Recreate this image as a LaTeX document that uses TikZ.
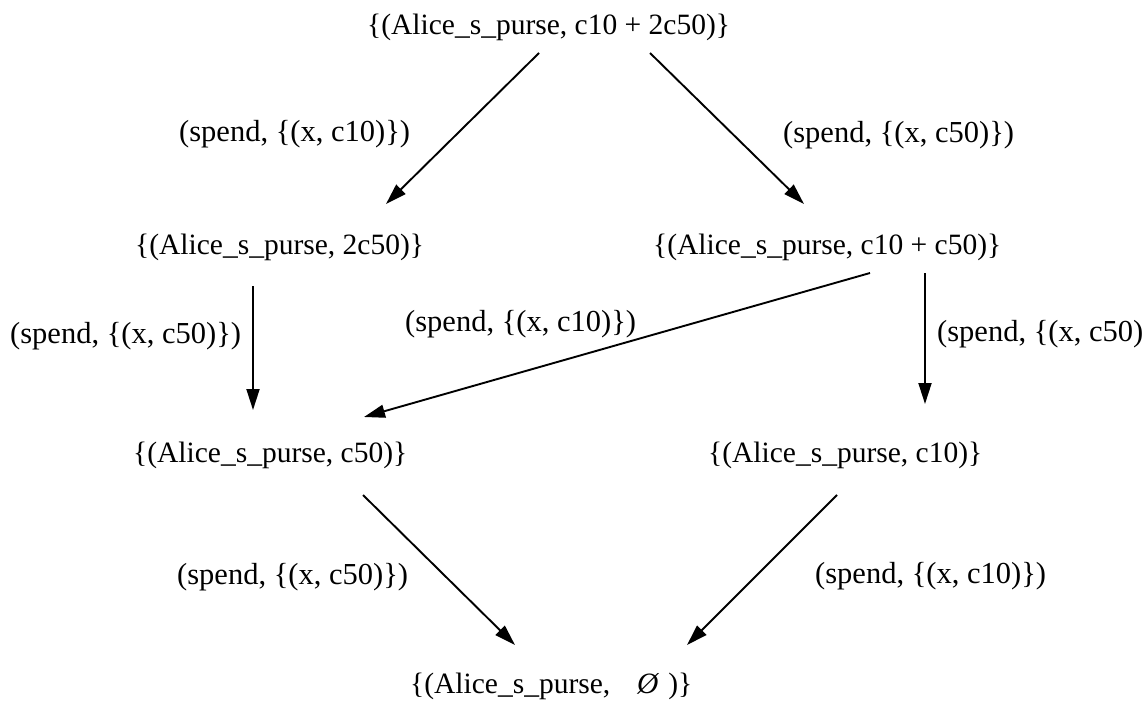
\documentclass[tikz,border=0pt]{standalone}
\usepackage{fontspec}
\setmainfont{Liberation Serif}
\usetikzlibrary{arrows.meta,calc}
\begin{document}
\begin{tikzpicture}[x=1pt,y=-1pt,
  txt/.style={inner sep=0pt, anchor=base west, font=\fontsize{29.5pt}{35pt}\selectfont},
  lbl/.style={inner sep=0pt, anchor=base west, font=\fontsize{30.5pt}{36pt}\selectfont},
  arr/.style={-{Triangle[length=21pt,width=13pt]}, line width=1.9pt}]
\useasboundingbox (0,0) rectangle (1143,701);
% states
\node[txt] (top) at (367,35) {\{(Alice\_s\_purse, c10 + 2c50)\}};
\node[txt] (L1) at (135,254) {\{(Alice\_s\_purse, 2c50)\}};
\node[txt] (R1) at (653,254) {\{(Alice\_s\_purse, c10 + c50)\}};
\node[txt] (L2) at (133,462) {\{(Alice\_s\_purse, c50)\}};
\node[txt] (R2) at (708,462) {\{(Alice\_s\_purse, c10)\}};
\node[txt] (bot) at (410,693) {\{(Alice\_s\_purse,\hspace{25pt}\makebox[25pt]{\itshape Ø}\hspace{8pt})\}};
% labels
\node[lbl] (la1) at (179,141) {(spend, \{(x, c10)\})};
\node[lbl] (la2) at (783,142) {(spend, \{(x, c50)\})};
\node[lbl] (la3) at (10,343) {(spend, \{(x, c50)\})};
\node[lbl] (la4) at (405,331) {(spend, \{(x, c10)\})};
\node[lbl] (la5) at (937,341) {(spend, \{(x, c50)\})};
\node[lbl] (la6) at (177,584) {(spend, \{(x, c50)\})};
\node[lbl] (la7) at (815,583) {(spend, \{(x, c10)\})};
% transitions
\draw[arr] ($(top.base west)+(172,18)$) -- ($(L1.base west)+(251,-50)$);
\draw[arr] ($(top.base west)+(283,18)$) -- ($(R1.base west)+(151,-50)$);
\draw[arr] ($(L1.base west)+(118,32)$) -- ($(L2.base west)+(120,-52)$);
\draw[arr] ($(R1.base west)+(217,19)$) -- ($(L2.base west)+(231,-45)$);
\draw[arr] ($(R1.base west)+(272,19)$) -- ($(R2.base west)+(217,-58)$);
\draw[arr] ($(L2.base west)+(230,33)$) -- ($(bot.base west)+(105,-48)$);
\draw[arr] ($(R2.base west)+(129,33)$) -- ($(bot.base west)+(277,-48)$);
\end{tikzpicture}
\end{document}
